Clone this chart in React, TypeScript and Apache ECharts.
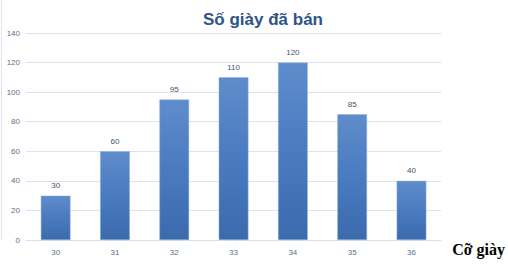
import React, { useEffect, useRef } from "react";
import * as echarts from "echarts";

const categories = ["30", "31", "32", "33", "34", "35", "36"];
const sold = [30, 60, 95, 110, 120, 85, 40];
const yTicks = [0, 20, 40, 60, 80, 100, 120, 140];
const title = "Số giày đã bán";
const xName = "Cỡ giày";

export default function App() {
  const ref = useRef<HTMLDivElement>(null);
  useEffect(() => {
    const chart = echarts.init(ref.current!, null, { renderer: "svg" });
    chart.setOption({
      animation: false,
      backgroundColor: "#ffffff",
      title: {
        text: title,
        left: 258,
        textAlign: "center",
        top: 6,
        textStyle: { fontFamily: "Liberation Sans, Arial, sans-serif", fontSize: 17, fontWeight: "bold", color: "#2f5488" },
      },
      grid: { left: 26, right: 66, top: 33, bottom: 26, containLabel: false },
      xAxis: {
        type: "category",
        data: categories,
        axisLine: { show: true, lineStyle: { color: "#d9e1ee" } },
        axisTick: { show: false },
        axisLabel: { color: "#5a6f8c", fontSize: 8, margin: 8, fontFamily: "Liberation Sans, Arial, sans-serif" },
        name: xName,
        nameLocation: "end",
        nameGap: 11,
        nameTextStyle: {
          fontFamily: "Liberation Serif, Times New Roman, serif",
          fontWeight: "bold",
          fontSize: 16,
          color: "#000000",
          verticalAlign: "top",
          padding: [1, 0, 0, 0],
        },
      },
      yAxis: {
        type: "value",
        min: yTicks[0],
        max: yTicks[yTicks.length - 1],
        interval: 20,
        axisLine: { show: false },
        axisTick: { show: false },
        splitLine: { lineStyle: { color: "#dde4f0", width: 1 } },
        axisLabel: { color: "#5a6f8c", fontSize: 8, margin: 6, fontFamily: "Liberation Sans, Arial, sans-serif" },
      },
      series: [
        {
          type: "bar",
          data: sold,
          barWidth: "50%",
          itemStyle: {
            color: new echarts.graphic.LinearGradient(0, 0, 0, 1, [
              { offset: 0, color: "#5f8ccb" },
              { offset: 0.5, color: "#4a7bc0" },
              { offset: 1, color: "#3b6aad" },
            ]),
            borderColor: "#8fb0dc",
            borderWidth: 0.5,
          },
          label: {
            show: true,
            position: "top",
            distance: 6,
            fontSize: 8,
            color: "#44546a",
            fontFamily: "Liberation Sans, Arial, sans-serif",
          },
        },
      ],
      graphic: [
        { type: "line", shape: { x1: 1.5, y1: 0, x2: 1.5, y2: 240 }, style: { stroke: "#dde4f0", lineWidth: 1 } },
      ],
    });
    return () => chart.dispose();
  }, []);
  return <div ref={ref} style={{ position: "fixed", left: 0, top: 0, width: 508, height: 266 }} />;
}
